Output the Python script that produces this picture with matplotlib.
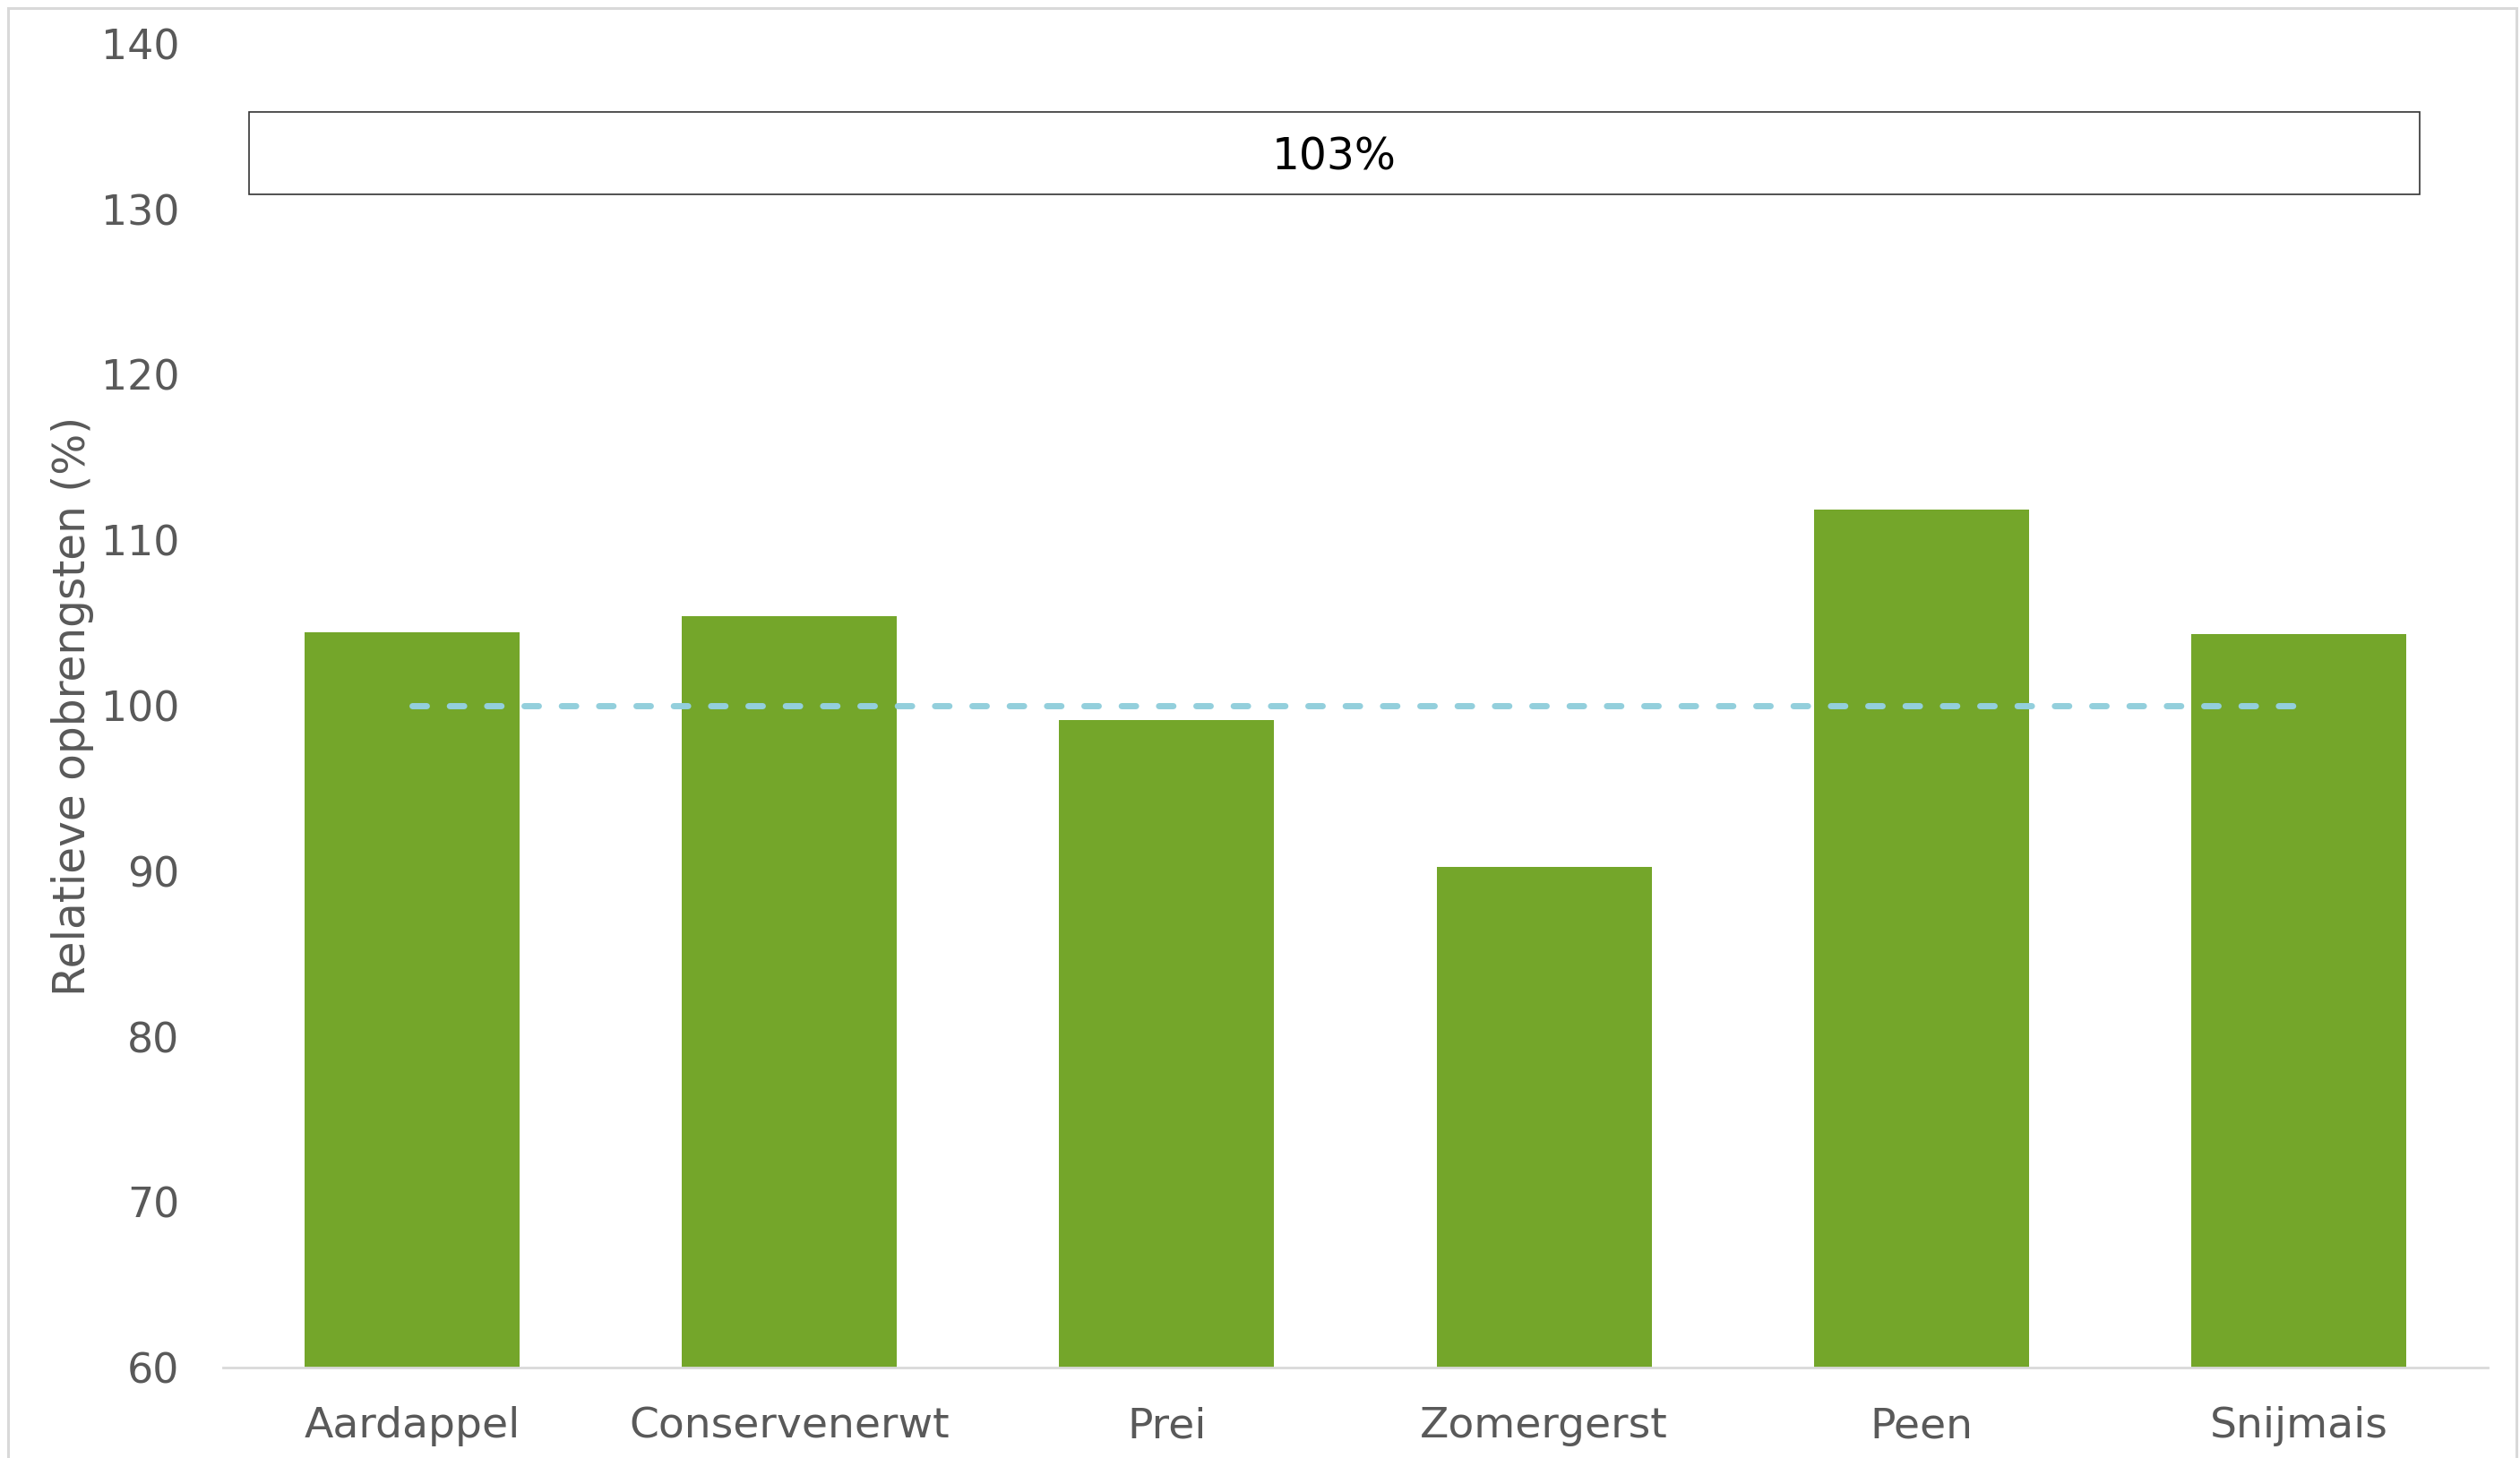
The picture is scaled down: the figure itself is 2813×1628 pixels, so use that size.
import matplotlib
matplotlib.use("Agg")
import matplotlib.pyplot as plt
from matplotlib.patches import Rectangle
import numpy as np

# relative yields per crop, reference level 100%
crops = ["Aardappel", "Conservenerwt", "Prei", "Zomergerst", "Peen", "Snijmais"]
relative_yield = [104.45, 105.4, 99.15, 90.25, 111.85, 104.35]
reference_level = 100
average_label = "103%"
y_ticks = [60, 70, 80, 90, 100, 110, 120, 130, 140]

bar_color = "#74A62A"
ref_color = "#93CFDC"
text_color = "#595959"

plt.rcParams['font.family'] = ['DejaVu Sans']

fig = plt.figure(figsize=(28.13, 16.28), dpi=100)
ax = fig.add_axes([0.0886, 0.062, 0.8985, 0.908])

x = np.arange(len(crops))
ax.bar(x, relative_yield, width=0.57, color=bar_color, zorder=2)

# dashed reference line from first to last crop
ax.plot([x[0], x[-1]], [reference_level, reference_level], color=ref_color,
        linewidth=5, linestyle=(0, (2.3, 3.7)), dash_capstyle="round", zorder=3)

ax.set_xlim(-0.5, len(crops) - 0.5)
ax.set_ylim(60, 140)
ax.set_yticks(y_ticks)
ax.set_xticks(x)
ax.set_xticklabels(crops)

for side in ["left", "right", "top"]:
    ax.spines[side].set_visible(False)
ax.spines["bottom"].set_color("#D9D9D9")
ax.spines["bottom"].set_linewidth(2)

ax.tick_params(axis="y", length=0, pad=35, labelsize=33, labelcolor=text_color)
ax.tick_params(axis="x", length=0, pad=31, labelsize=34, labelcolor=text_color)

ax.set_ylabel("Relatieve opbrengsten (%)", fontsize=35, color=text_color)
ax.yaxis.set_label_coords(-0.057, 0.5)

# text box with the average
box = Rectangle((0.0988, 0.8669), 0.8614, 0.0563, transform=fig.transFigure,
                facecolor="white", edgecolor="#333333", linewidth=1.2, zorder=5)
fig.patches.append(box)
fig.text(0.5295, 0.8925, average_label, ha="center", va="center",
         fontsize=35, color="black", zorder=6)

# chart area border
border = Rectangle((0.0032, -0.01), 0.9954, 1.0045, transform=fig.transFigure,
                   facecolor="none", edgecolor="#D9D9D9", linewidth=2.2)
fig.patches.append(border)

fig.savefig("out.png", dpi=100)
